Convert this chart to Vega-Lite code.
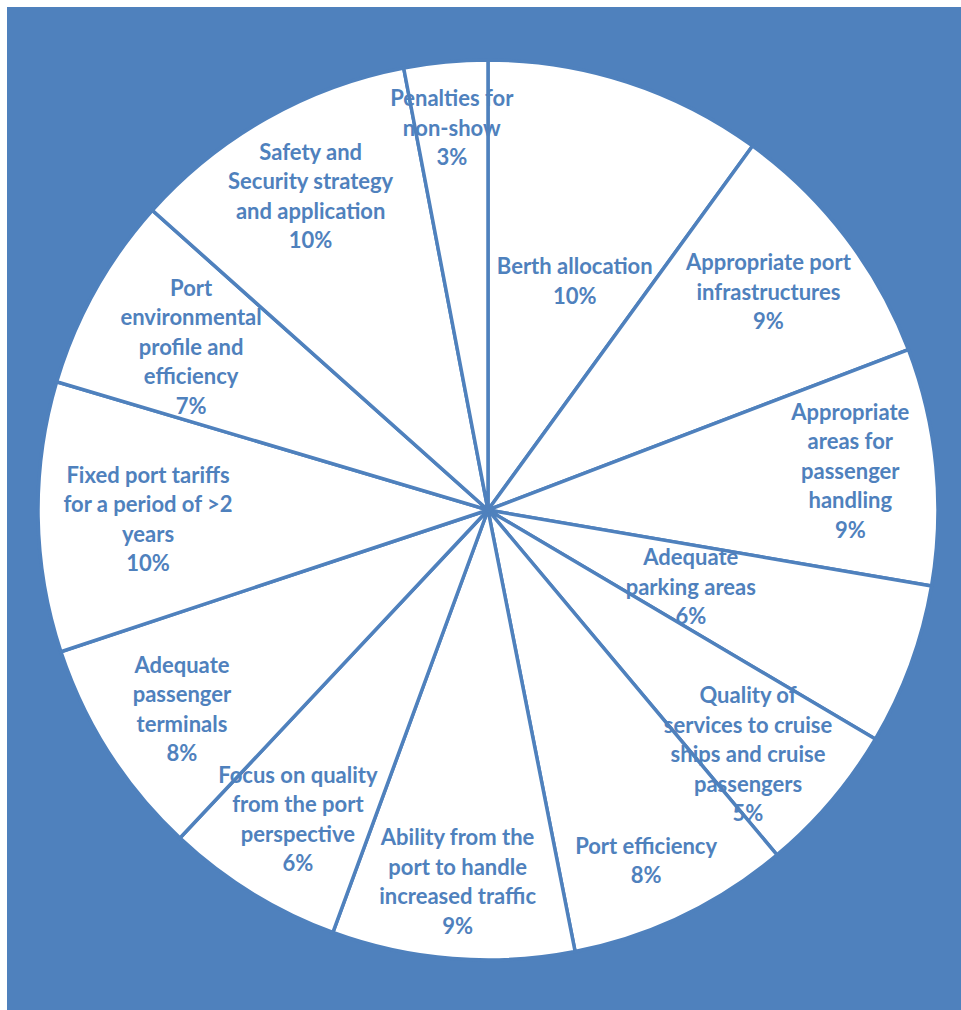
{
  "$schema": "https://vega.github.io/schema/vega-lite/v6.json",
  "width": 954,
  "height": 1003,
  "autosize": "none",
  "padding": {"left": 7, "top": 7, "right": 0, "bottom": 0},
  "background": "white",
  "view": {"fill": "#4F81BD", "stroke": null},
  "config": {
    "text": {"font": "Lato", "fontSize": 22, "fontWeight": "bold", "fill": "#4F81BD", "lineHeight": 29.5, "align": "center", "baseline": "middle"}
  },
  "data": {
    "values": [
      {"rank": 1, "name": "Berth allocation", "value": 10.0, "lines": ["Berth allocation", "10%"]},
      {"rank": 2, "name": "Appropriate port infrastructures", "value": 9.2, "lines": ["Appropriate port", "infrastructures", "9%"]},
      {"rank": 3, "name": "Appropriate areas for passenger handling", "value": 8.5, "lines": ["Appropriate", "areas for", "passenger", "handling", "9%"]},
      {"rank": 4, "name": "Adequate parking areas", "value": 5.8, "lines": ["Adequate", "parking areas", "6%"]},
      {"rank": 5, "name": "Quality of services to cruise ships and cruise passengers", "value": 5.4, "lines": ["Quality of", "services to cruise", "ships and cruise", "passengers", "5%"]},
      {"rank": 6, "name": "Port efficiency", "value": 8.0, "lines": ["Port efficiency", "8%"]},
      {"rank": 7, "name": "Ability from the port to handle increased traffic", "value": 8.7, "lines": ["Ability from the", "port to handle", "increased traffic", "9%"]},
      {"rank": 8, "name": "Focus on quality from the port perspective", "value": 6.4, "lines": ["Focus on quality", "from the port", "perspective", "6%"]},
      {"rank": 9, "name": "Adequate passenger terminals", "value": 7.9, "lines": ["Adequate", "passenger", "terminals", "8%"]},
      {"rank": 10, "name": "Fixed port tariffs for a period of >2 years", "value": 9.7, "lines": ["Fixed port tariffs", "for a period of >2", "years", "10%"]},
      {"rank": 11, "name": "Port environmental profile and efficiency", "value": 7.0, "lines": ["Port", "environmental", "profile and", "efficiency", "7%"]},
      {"rank": 12, "name": "Safety and Security strategy and application", "value": 10.4, "lines": ["Safety and", "Security strategy", "and application", "10%"]},
      {"rank": 13, "name": "Penalties for non-show", "value": 3.0, "lines": ["Penalties for", "non-show", "3%"]}
    ]
  },
  "encoding": {
    "theta": {"field": "value", "type": "quantitative", "stack": true},
    "order": {"field": "rank", "type": "quantitative", "sort": "ascending"}
  },
  "layer": [
    {"mark": {"type": "arc", "outerRadius": 450, "fill": "white", "stroke": "#4F81BD", "strokeWidth": 3.5, "xOffset": 4, "yOffset": 1.5}},
    {"mark": {"type": "text", "radius": 245, "dx": 11, "dy": -9.75, "xOffset": 4, "yOffset": 1.5}, "encoding": {"text": {"condition": {"test": "datum.rank === 1", "field": "lines"}, "value": ""}}},
    {"mark": {"type": "text", "radius": 362, "dx": -7, "dy": -26.5, "xOffset": 4, "yOffset": 1.5}, "encoding": {"text": {"condition": {"test": "datum.rank === 2", "field": "lines"}, "value": ""}}},
    {"mark": {"type": "text", "radius": 362, "dx": 2, "dy": -62, "xOffset": 4, "yOffset": 1.5}, "encoding": {"text": {"condition": {"test": "datum.rank === 3", "field": "lines"}, "value": ""}}},
    {"mark": {"type": "text", "radius": 216, "dx": 0, "dy": -26, "xOffset": 4, "yOffset": 1.5}, "encoding": {"text": {"condition": {"test": "datum.rank === 4", "field": "lines"}, "value": ""}}},
    {"mark": {"type": "text", "radius": 362, "dx": -16, "dy": -48, "xOffset": 4, "yOffset": 1.5}, "encoding": {"text": {"condition": {"test": "datum.rank === 5", "field": "lines"}, "value": ""}}},
    {"mark": {"type": "text", "radius": 385, "dx": -8, "dy": -10.75, "xOffset": 4, "yOffset": 1.5}, "encoding": {"text": {"condition": {"test": "datum.rank === 6", "field": "lines"}, "value": ""}}},
    {"mark": {"type": "text", "radius": 362, "dx": -2, "dy": -32.75, "xOffset": 4, "yOffset": 1.5}, "encoding": {"text": {"condition": {"test": "datum.rank === 7", "field": "lines"}, "value": ""}}},
    {"mark": {"type": "text", "radius": 362, "dx": 0, "dy": -42.25, "xOffset": 4, "yOffset": 1.5}, "encoding": {"text": {"condition": {"test": "datum.rank === 8", "field": "lines"}, "value": ""}}},
    {"mark": {"type": "text", "radius": 362, "dx": -1, "dy": -39.25, "xOffset": 4, "yOffset": 1.5}, "encoding": {"text": {"condition": {"test": "datum.rank === 9", "field": "lines"}, "value": ""}}},
    {"mark": {"type": "text", "radius": 340, "dx": 0, "dy": -39.75, "xOffset": 4, "yOffset": 1.5}, "encoding": {"text": {"condition": {"test": "datum.rank === 10", "field": "lines"}, "value": ""}}},
    {"mark": {"type": "text", "radius": 340, "dx": 0, "dy": -55.5, "xOffset": 4, "yOffset": 1.5}, "encoding": {"text": {"condition": {"test": "datum.rank === 11", "field": "lines"}, "value": ""}}},
    {"mark": {"type": "text", "radius": 362, "dx": 1, "dy": -42.25, "xOffset": 4, "yOffset": 1.5}, "encoding": {"text": {"condition": {"test": "datum.rank === 12", "field": "lines"}, "value": ""}}},
    {"mark": {"type": "text", "radius": 385, "dx": 0, "dy": -27.5, "xOffset": 4, "yOffset": 1.5}, "encoding": {"text": {"condition": {"test": "datum.rank === 13", "field": "lines"}, "value": ""}}}
  ]
}
